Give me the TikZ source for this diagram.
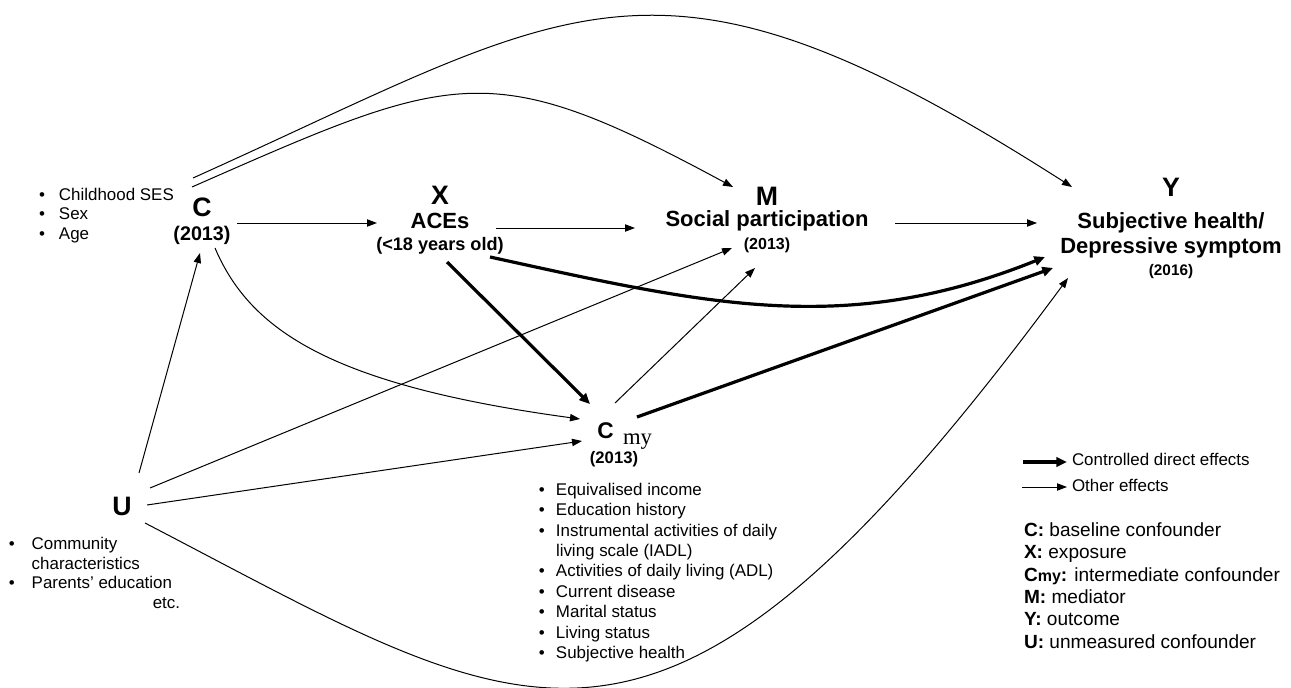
\documentclass[tikz,border=0pt]{standalone}
\usepackage{fontspec}
\setmainfont{Liberation Sans}
\newfontfamily\serifface{Liberation Serif}
\usepackage{tikz}
\usetikzlibrary{positioning, arrows.meta, calc}
\newcommand{\bul}[1][15pt]{\makebox[#1][l]{\textbullet}}
\newcommand{\fs}[2]{\fontsize{#1}{#2}\selectfont}

\begin{document}
\begin{tikzpicture}[
  x=0.75pt, y=-0.75pt,
  every node/.style={inner sep=0pt, outer sep=0pt},
  var/.style={align=center, anchor=north},
  list/.style={align=left, anchor=north west},
  arr/.style={-{Triangle[length=7.5pt,width=5.5pt]}, line width=0.75pt},
  cde/.style={-{Triangle[length=8pt,width=7pt]}, line width=2.4pt}
]
  \useasboundingbox (0,0) rectangle (1291,688);

  % variables
  \node[var, font=\bfseries\fs{14.8}{18}] (c) at (202,197.5)
    {{\fs{20}{20}C}\\(2013)};
  \node[var, font=\bfseries\fs{13.6}{16.5}] (x) at (440,186)
    {{\fs{20}{20}X}\\[1.5pt]{\fs{16.5}{16.5}ACEs}\\(<18 years old)};
  \node[var, font=\bfseries\fs{12}{15.75}] (m) at (767,187)
    {{\fs{20}{20}M}\\{\fs{16.5}{16.5}Social participation}\\[1.5pt](2013)};
  \node[var, font=\bfseries\fs{11.5}{16.5}] (y) at (1171,178)
    {{\fs{20}{20}Y}\\[7.5pt]{\fs{16.5}{16.5}Subjective health/}\\[2.25pt]{\fs{16.5}{16.5}Depressive symptom}\\(2016)};
  \node[var, font=\bfseries\fs{12.5}{15.75}] (cmy) at (605.5,423)
    {{\fs{17}{17}C\rlap{\kern7pt\raisebox{-4.5pt}{\serifface\mdseries my}}}\\\hspace*{12.75pt}(2013)};
  \node[var, font=\bfseries\fs{20}{20}] (u) at (122,497) {U};

  % covariate lists
  \node[list, font=\fs{12.7}{14.6}] (clist) at (39,188)
    {\bul Childhood SES\\\bul Sex\\\bul Age};
  \node[list, font=\fs{12.7}{15.3}] (cmylist) at (538.8,483)
    {\bul[12.9pt]Equivalised income\\
     \bul[12.9pt]Education history\\
     \bul[12.9pt]Instrumental activities of daily\\
     \hspace*{12.9pt}living scale (IADL)\\
     \bul[12.9pt]Activities of daily living (ADL)\\
     \bul[12.9pt]Current disease\\
     \bul[12.9pt]Marital status\\
     \bul[12.9pt]Living status\\
     \bul[12.9pt]Subjective health};
  \node[list, font=\fs{12.7}{14.8}] (ulist) at (8.8,537)
    {\bul[17.2pt]Community\\
     \hspace*{17.2pt}characteristics\\
     \bul[17.2pt]Parents’ education\\
     \hspace*{108pt}etc.};

  % legend
  \coordinate (lgcdeL) at (1023,462);
  \coordinate (lgothL) at (1022,487);
  \node[anchor=west, font=\fs{12.7}{14.6}] (lgcde) at (1072,459.5) {Controlled direct effects};
  \node[anchor=west, font=\fs{12.7}{14.6}] (lgoth) at (1072,485) {Other effects};
  \node[list, font=\fs{14.3}{16.8}] (key) at (1024,522.5)
    {\textbf{C:} baseline confounder\\
     \textbf{X:} exposure\\
     \textbf{C{\fs{12}{12}my}:} intermediate confounder\\
     \textbf{M:} mediator\\
     \textbf{Y:} outcome\\
     \textbf{U:} unmeasured confounder};
  \draw[cde, shorten >=3.75pt] (lgcdeL) -- (lgcdeL -| lgcde.west);
  \draw[arr, shorten >=3.75pt] (lgothL) -- (lgothL -| lgoth.west);

  % other effects
  \draw[arr] ($(c.north)+(35,25.5)$) -- ($(x.north)+(-63,37)$);
  \draw[arr] ($(x.north)+(56,42)$) -- ($(m.north)+(-132,41)$);
  \draw[arr] ($(m.north)+(128,36)$) -- ($(y.north)+(-134,45)$);
  \draw[arr] ($(c.north)+(-10,-10.5)$) .. controls +(264,-116) and +(-244,-132) .. ($(m.north)+(-34,0)$);
  \draw[arr] ($(c.north)+(-9,-19.5)$) .. controls +(385,-173) and +(-418,-267.5) .. ($(y.north)+(-99,9)$);
  \draw[arr] ($(c.north)+(13,50.5)$) .. controls +(35,82) and +(-250,-34) .. ($(cmy.north)+(-25.5,-4)$);
  \draw[arr] ($(u.north)+(17,-24)$) -- ($(c.north)+(-2,55.5)$);
  \draw[arr] ($(u.north)+(28,-9)$) -- ($(m.north)+(-35,61)$);
  \draw[arr] ($(u.north)+(25,8)$) -- ($(cmy.north)+(-23.5,18)$);
  \draw[arr] ($(u.north)+(23,26)$) .. controls +(392.6,204) and +(-410,555) .. ($(y.north)+(-103,100)$);
  \draw[arr] ($(cmy.north)+(9.5,-20)$) -- ($(m.north)+(-12,81)$);

  % controlled direct effects
  \draw[cde] ($(x.north)+(7,76)$) -- ($(cmy.north)+(-15.5,-19)$);
  \draw[cde] ($(x.north)+(50,71)$) .. controls +(219,48) and +(-199,80) .. ($(y.north)+(-126,79)$);
  \draw[cde] ($(cmy.north)+(31.5,-6)$) -- ($(y.north)+(-118,90)$);
\end{tikzpicture}
\end{document}
